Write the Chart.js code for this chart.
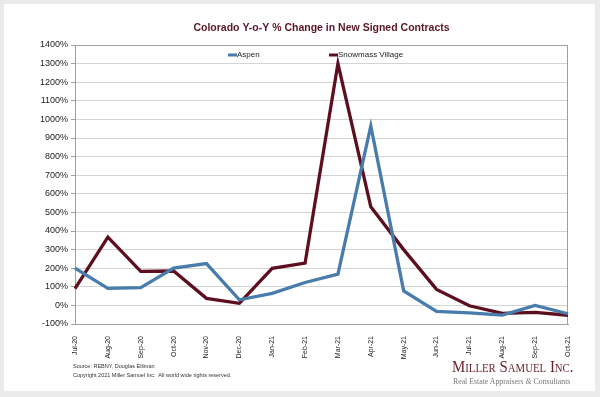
<!DOCTYPE html>
<html>
<head>
<meta charset="utf-8">
<script src="https://cdn.jsdelivr.net/npm/chart.js@4/dist/chart.umd.min.js"></script>
<style>
  html, body { margin: 0; padding: 0; }
  body { width: 600px; height: 397px; background: #ebebeb; position: relative; overflow: hidden; }
  #panel { position: absolute; left: 4px; top: 4px; width: 591px; height: 387px; background: #fff; }
  #chart { position: absolute; left: 0; top: 0; }
  .foot { position: absolute; font-family: "Liberation Sans", Arial, sans-serif; font-size: 5.5px; color: #333; white-space: nowrap; }
  #logo { position: absolute; left: 452px; top: 357px; font-family: "Liberation Serif", serif; font-variant: small-caps; font-size: 16.5px; color: #6b1f2a; white-space: nowrap; transform: scaleX(0.9); transform-origin: left top; }
  #tag { position: absolute; left: 453px; top: 377px; font-family: "Liberation Serif", serif; font-size: 7.8px; color: #777; white-space: nowrap; }
</style>
</head>
<body>
<div id="panel"></div>
<canvas id="chart" width="600" height="397"></canvas>
<div class="foot" style="left:73px; top:363px;">Source: REBNY, Douglas Elliman</div>
<div class="foot" style="left:73px; top:372px;">Copyright 2021 Miller Samuel Inc.&nbsp; All world wide rights reserved.</div>
<div id="logo">Miller Samuel Inc.</div>
<div id="tag">Real Estate Appraisers <i>&amp;</i> Consultants</div>
<script>
"use strict";

const months = ["Jul-20", "Aug-20", "Sep-20", "Oct-20", "Nov-20", "Dec-20", "Jan-21", "Feb-21",
  "Mar-21", "Apr-21", "May-21", "Jun-21", "Jul-21", "Aug-21", "Sep-21", "Oct-21"];
const aspen = [200, 92, 95, 200, 225, 30, 65, 123, 168, 965, 78, -32, -40, -52, 0, -45];
const snowmass = [90, 367, 183, 185, 38, 11, 199, 227, 1300, 530, 300, 86, -2, -43, -38, -53];

const aspenColor = "rgb(72, 124, 172)";
const snowmassColor = "rgb(94, 15, 31)";

// legend drawn inside the plot, like the original
const insideLegend = {
  id: "insideLegend",
  afterDraw(chart) {
    const c = chart.ctx;
    const area = chart.chartArea;
    const spots = [153, 254];
    c.save();
    c.font = "8px 'Liberation Sans', Arial, sans-serif";
    c.textBaseline = "middle";
    chart.data.datasets.forEach((ds, i) => {
      const x = area.left + spots[i];
      const y = area.top + 10;
      c.strokeStyle = ds.borderColor;
      c.lineWidth = 3;
      c.beginPath();
      c.moveTo(x, y);
      c.lineTo(x + 9, y);
      c.stroke();
      c.fillStyle = "#222";
      c.fillText(ds.label, x + 9, y);
    });
    c.restore();
  },
};

const plotBorder = {
  id: "plotBorder",
  beforeDatasetsDraw(chart) {
    const c = chart.ctx;
    const a = chart.chartArea;
    c.save();
    c.strokeStyle = "#a0a0a0";
    c.lineWidth = 1;
    c.strokeRect(a.left + 0.5, a.top + 0.5, a.right - a.left - 1, a.bottom - a.top);
    c.restore();
  },
};

const ctx = document.getElementById("chart").getContext("2d");
const chart = new Chart(ctx, {
  type: "line",
  data: {
    labels: months,
    datasets: [
      {
        label: "Aspen",
        data: aspen,
        borderColor: aspenColor,
        borderWidth: 3.3,
        pointRadius: 0,
        tension: 0,
        fill: false,
      },
      {
        label: "Snowmass Village",
        data: snowmass,
        borderColor: snowmassColor,
        borderWidth: 3.3,
        pointRadius: 0,
        tension: 0,
        fill: false,
      },
    ],
  },
  options: {
    responsive: false,
    animation: false,
    devicePixelRatio: 1,
    layout: { padding: { left: 0, right: 32, top: 12, bottom: 33 } },
    plugins: {
      legend: { display: false },
      tooltip: { enabled: false },
      title: {
        display: true,
        fullSize: false,
        text: "Colorado Y-o-Y % Change in New Signed Contracts",
        color: "#5a1526",
        font: { family: "'Liberation Sans', Arial, sans-serif", size: 10.5, weight: "bold", lineHeight: 1.2 },
        padding: { top: 9.7, bottom: 10.7 },
      },
    },
    scales: {
      x: {
        offset: false,
        grid: { display: false },
        border: { display: true, color: "#a0a0a0" },
        ticks: {
          color: "#222",
          font: { family: "'Liberation Sans', Arial, sans-serif", size: 7 },
          minRotation: 90,
          maxRotation: 90,
          autoSkip: false,
          padding: 4,
        },
        afterFit(scale) { scale.height = 40; },
      },
      y: {
        min: -100,
        max: 1400,
        grid: { color: "#d4d4d4", tickLength: 4, tickColor: "#a0a0a0" },
        border: { display: true, color: "#a0a0a0" },
        ticks: {
          stepSize: 100,
          color: "#222",
          font: { family: "'Liberation Sans', Arial, sans-serif", size: 9 },
          padding: 3,
          callback: (v) => v + "%",
        },
        afterFit(scale) { scale.width = 75; },
      },
    },
  },
  plugins: [plotBorder, insideLegend],
});
</script>
</body>
</html>
